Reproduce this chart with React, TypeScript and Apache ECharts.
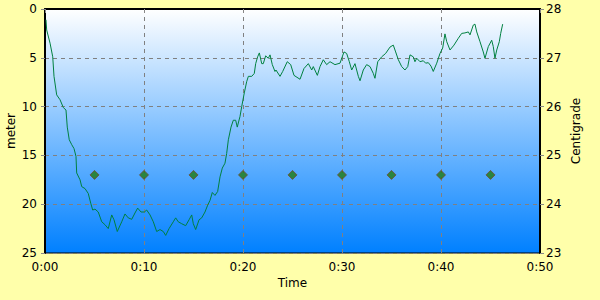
import React, { useEffect, useRef } from "react";
import * as echarts from "echarts";

// Dive profile: time (minutes) and depth (meter)
const timeMin: number[] = [
  0.1, 0.17, 0.51, 0.78, 0.91, 1.18, 1.52, 1.85, 2.12, 2.25, 2.45, 2.7, 2.93, 3.13, 3.2, 3.54, 3.71, 4.04, 4.37, 4.62,
  4.82, 5.05, 5.38, 5.73, 6.06, 6.39, 6.74, 6.97, 7.3, 7.75, 8.08, 8.41, 8.76, 9.09, 9.36, 9.7, 10.03, 10.27, 10.61, 10.94,
  11.28, 11.62, 11.95, 12.19, 12.53, 12.96, 13.2, 13.46, 13.81, 14.21, 14.55, 14.82, 14.98, 15.22, 15.56, 15.83, 16.16, 16.43, 16.67, 16.9,
  17.17, 17.44, 17.68, 17.91, 18.18, 18.35, 18.52, 18.79, 19.02, 19.26, 19.42, 19.7, 19.87, 20.13, 20.37, 20.54, 20.88, 21.14, 21.28, 21.48,
  21.65, 21.89, 22.05, 22.29, 22.56, 22.73, 22.96, 23.23, 23.33, 23.74, 24.01, 24.47, 24.82, 25.15, 25.76, 26.16, 26.6, 26.94, 27.1, 27.51,
  27.78, 28.11, 28.45, 28.79, 29.29, 29.8, 30.2, 30.47, 30.74, 30.98, 31.31, 31.65, 31.82, 32.15, 32.49, 32.83, 33.16, 33.33, 33.61, 34.01,
  34.41, 34.85, 35.18, 35.42, 35.69, 36.03, 36.36, 36.64, 36.87, 37.2, 37.37, 37.55, 37.88, 38.21, 38.45, 38.72, 38.99, 39.22, 39.57, 39.9,
  40.17, 40.4, 40.58, 40.91, 41.31, 41.75, 42.09, 42.42, 42.76, 42.93, 43.26, 43.43, 43.61, 43.94, 44.27, 44.44, 44.78, 45.12, 45.28, 45.45,
  45.63, 45.89, 46.03, 46.23,
];
const depthM: number[] = [
  1.1, 2.15, 3.5, 4.9, 6.9, 8.8, 9.3, 10.1, 10.35, 12.1, 13.4, 13.9, 14.3, 15.1, 16.8, 17.5, 18.2, 18.4, 18.9, 19.9,
  20.6, 20.5, 20.8, 21.8, 22.1, 22.5, 21.1, 21.6, 22.8, 21.8, 21.0, 21.4, 21.55, 20.9, 20.4, 20.8, 20.8, 20.6, 21.1, 21.8,
  22.8, 22.6, 22.8, 23.2, 22.5, 21.8, 21.4, 21.8, 22.0, 22.2, 21.6, 21.1, 22.0, 22.6, 21.6, 21.4, 20.8, 20.1, 19.6, 18.8,
  19.1, 18.7, 17.2, 16.3, 15.8, 14.8, 13.4, 12.1, 11.4, 11.4, 12.1, 11.0, 10.0, 8.6, 7.45, 6.9, 6.9, 6.6, 5.6, 4.9,
  4.5, 5.6, 5.6, 4.8, 5.05, 4.7, 5.7, 6.4, 6.25, 6.9, 6.4, 5.4, 5.7, 6.8, 7.2, 6.1, 5.6, 6.25, 5.9, 6.8,
  5.9, 5.2, 5.7, 5.4, 5.7, 5.55, 4.4, 4.55, 5.4, 6.25, 5.6, 6.9, 7.35, 6.25, 5.7, 5.9, 6.6, 7.1, 5.4, 4.9,
  4.55, 3.9, 3.7, 4.4, 5.2, 5.9, 6.25, 5.9, 4.7, 4.9, 5.4, 5.05, 5.4, 5.3, 5.55, 5.5, 5.85, 6.4, 5.55, 4.55,
  4.0, 2.55, 3.35, 4.2, 3.7, 3.0, 2.5, 2.45, 2.35, 2.65, 1.65, 1.55, 2.35, 3.35, 4.4, 5.05, 3.85, 3.2, 3.85, 5.05,
  4.2, 3.35, 2.5, 1.55,
];

// Temperature samples (Centigrade)
const tempTime: number[] = [5, 10, 15, 20, 25, 30, 35, 40, 45];
const tempValue: number[] = [24.6, 24.6, 24.6, 24.6, 24.6, 24.6, 24.6, 24.6, 24.6];

const xTicks: number[] = [0, 10, 20, 30, 40, 50];

export default function App() {
  const ref = useRef<HTMLDivElement>(null);
  useEffect(() => {
    if (!ref.current) return;
    const chart = echarts.init(ref.current, null, { renderer: "svg" });
    const font = "DejaVu Sans";
    const depthData = timeMin.map((t, i) => [t, depthM[i]]);
    const tempData = tempTime.map((t, i) => [t, tempValue[i]]);
    chart.setOption({
      animation: false,
      backgroundColor: "#FFFFAA",
      textStyle: { fontFamily: font },
      grid: {
        left: 45,
        right: 60,
        top: 9,
        bottom: 47,
        containLabel: false,
        outerBoundsMode: "none",
        show: true,
        borderColor: "#000",
        borderWidth: 1,
        backgroundColor: new echarts.graphic.LinearGradient(0, 0, 0, 1, [
          { offset: 0, color: "#FFFFFF" },
          { offset: 1, color: "#0080FF" },
        ]),
      },
      xAxis: {
        type: "value",
        min: xTicks[0],
        max: xTicks[xTicks.length - 1],
        interval: 10,
        name: "Time",
        nameLocation: "middle",
        nameGap: 24,
        nameMoveOverlap: false,
        nameTextStyle: { color: "#000", fontSize: 12, fontFamily: font },
        axisLine: { show: true, lineStyle: { color: "#000", width: 2 } },
        axisTick: { show: true, length: 4, lineStyle: { color: "#888" } },
        axisLabel: {
          color: "#000",
          fontSize: 12,
          fontFamily: font,
          margin: 8,
          formatter: (v: number) => `0:${v === 0 ? "00" : v}`,
        },
        splitLine: { show: true, lineStyle: { color: "#808080", type: [4, 4], width: 1 } },
      },
      yAxis: [
        {
          type: "value",
          inverse: true,
          min: 0,
          max: 25,
          interval: 5,
          name: "meter",
          nameLocation: "middle",
          nameRotate: 90,
          nameGap: 28,
          nameMoveOverlap: false,
          nameTextStyle: { color: "#000", fontSize: 12, fontFamily: font },
          axisLine: { show: true, lineStyle: { color: "#000", width: 2 } },
          axisTick: { show: true, length: 4, lineStyle: { color: "#888" } },
          axisLabel: { color: "#000", fontSize: 12, fontFamily: font, margin: 8 },
          splitLine: { show: true, lineStyle: { color: "#808080", type: [4, 4], width: 1 } },
        },
        {
          type: "value",
          position: "right",
          min: 23,
          max: 28,
          interval: 1,
          name: "Centigrade",
          nameLocation: "middle",
          nameRotate: 90,
          nameGap: 30,
          nameMoveOverlap: false,
          nameTextStyle: { color: "#000", fontSize: 12, fontFamily: font },
          axisLine: { show: true, lineStyle: { color: "#000", width: 2 } },
          axisTick: { show: true, length: 4, lineStyle: { color: "#888" } },
          axisLabel: { color: "#000", fontSize: 12, fontFamily: font, margin: 6 },
          splitLine: { show: false },
        },
      ],
      series: [
        {
          type: "line",
          data: depthData,
          yAxisIndex: 0,
          showSymbol: false,
          symbol: "none",
          lineStyle: { color: "#008040", width: 1 },
        },
        {
          type: "scatter",
          data: tempData,
          yAxisIndex: 1,
          symbol: "diamond",
          symbolSize: 9,
          itemStyle: { color: "#217a10", borderColor: "#704830", borderWidth: 1 },
        },
      ],
    });
    return () => chart.dispose();
  }, []);
  return (
    <div
      ref={ref}
      style={{ position: "fixed", left: 0, top: 0, width: 600, height: 300 }}
    />
  );
}
